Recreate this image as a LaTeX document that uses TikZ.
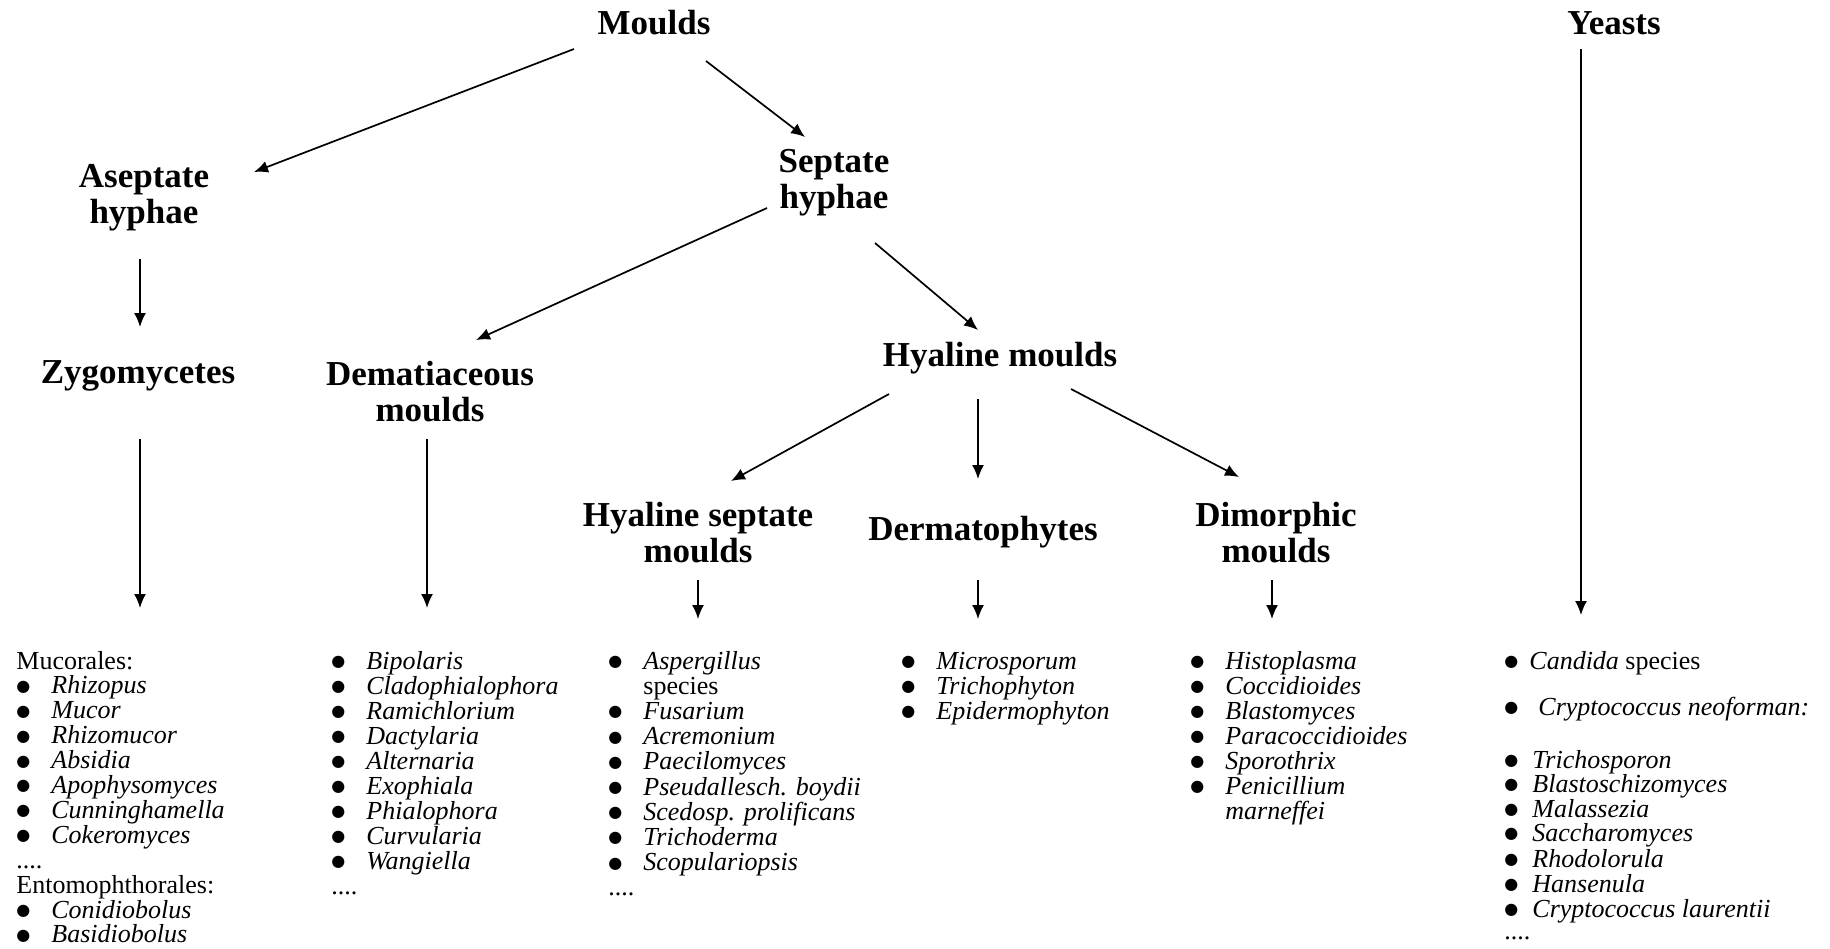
\documentclass[tikz,border=0pt]{standalone}
\usepackage{fontspec}
\setmainfont{Liberation Serif}
\newfontfamily\dejavu{DejaVu Sans}
\usetikzlibrary{arrows.meta}
\newcommand\bigbul{\raisebox{1.3pt}{\dejavu\fontsize{8}{8}\selectfont ●}}
\newcommand\bi[2][17.5pt]{\makebox[#1][l]{\bigbul}\textit{#2}}
\newcommand\ind[1]{\hspace*{17.5pt}#1}
\newcommand\fdots{....}
\begin{document}
\begin{tikzpicture}[x=0.5pt,y=-0.5pt,
  head/.style={font=\fontsize{17.5}{18}\selectfont\bfseries, align=center, inner sep=0pt},
  item/.style={anchor=base west, inner sep=0pt, font=\fontsize{13}{13}\selectfont},
  arr/.style={line width=0.85pt, -{Latex[length=7pt,width=6pt]}}]
\useasboundingbox (0,0) rectangle (1830,948);

% headings
\node[head] (moulds) at (654,23) {Moulds};
\node[head] (yeasts) at (1614,23) {Yeasts};
\node[head] (asep) at (144,198) {Aseptate\\hyphae};
\node[head] (sep) at (834,183) {Septate\\hyphae};
\node[head] (zygo) at (138,376) {Zygomycetes};
\node[head] (dema) at (430,392) {Dematiaceous\\moulds};
\node[head] (hyal) at (1000,358) {Hyaline moulds};
\node[head] (hsep) at (698,533) {Hyaline septate\\moulds};
\node[head] (derm) at (983,532) {Dermatophytes};
\node[head] (dimo) at (1276,533) {Dimorphic\\moulds};

% list tops
\coordinate (zygotop) at (140,608);
\coordinate (dematop) at (427,608);
\coordinate (hseptop) at (698,619);
\coordinate (dermtop) at (978,619);
\coordinate (dimotop) at (1272,619);
\coordinate (yeasttop) at (1581,615);

% arrows
\draw[arr] ([shift={(-80,26)}]moulds.center) -- ([shift={(110,-26)}]asep.center);
\draw[arr] ([shift={(52,38)}]moulds.center) -- ([shift={(-29,-46)}]sep.center);
\draw[arr] ([shift={(-67,25)}]sep.center) -- ([shift={(46,-52)}]dema.center);
\draw[arr] ([shift={(41,60)}]sep.center) -- ([shift={(-22,-28)}]hyal.center);
\draw[arr] ([shift={(-4,61)}]asep.center) -- ([shift={(2,-49)}]zygo.center);
\draw[arr] ([shift={(2,63)}]zygo.center) -- (zygotop);
\draw[arr] ([shift={(-3,47)}]dema.center) -- (dematop);
\draw[arr] ([shift={(-111,36)}]hyal.center) -- ([shift={(33,-52)}]hsep.center);
\draw[arr] ([shift={(-22,41)}]hyal.center) -- ([shift={(-5,-53)}]derm.center);
\draw[arr] ([shift={(71,31)}]hyal.center) -- ([shift={(-37,-56)}]dimo.center);
\draw[arr] ([shift={(0,47)}]hsep.center) -- (hseptop);
\draw[arr] ([shift={(-5,48)}]derm.center) -- (dermtop);
\draw[arr] ([shift={(-4,47)}]dimo.center) -- (dimotop);
\draw[arr] ([shift={(-33,26)}]yeasts.center) -- (yeasttop);

% lists
\foreach \t [count=\i from 0] in {Mucorales:,\bi{Rhizopus},\bi{Mucor},\bi{Rhizomucor},\bi{Absidia},\bi{Apophysomyces},\bi{Cunninghamella},\bi{Cokeromyces},\fdots,Entomophthorales:,\bi{Conidiobolus},\bi{Basidiobolus}}
  \node[item] (zl\i) at (16,669+24.9*\i) {\t};

\foreach \t [count=\i from 0] in {\bi{Bipolaris},\bi{Cladophialophora},\bi{Ramichlorium},\bi{Dactylaria},\bi{Alternaria},\bi{Exophiala},\bi{Phialophora},\bi{Curvularia},\bi{Wangiella},\fdots}
  \node[item] (dl\i) at (331,669+25*\i) {\t};

\foreach \t [count=\i from 0] in {\bi{Aspergillus},\ind{species},\bi{Fusarium},\bi{Acremonium},\bi{Paecilomyces},\bi{Pseudallesch. boydii},\bi{Scedosp. prolificans},\bi{Trichoderma},\bi{Scopulariopsis},\fdots}
  \node[item] (hl\i) at (608,669+25.2*\i) {\t};

\foreach \t [count=\i from 0] in {\bi{Microsporum},\bi{Trichophyton},\bi{Epidermophyton}}
  \node[item] (ml\i) at (901,669+25*\i) {\t};

\foreach \t [count=\i from 0] in {\bi{Histoplasma},\bi{Coccidioides},\bi{Blastomyces},\bi{Paracoccidioides},\bi{Sporothrix},\bi{Penicillium},\ind{\textit{marneffei}}}
  \node[item] (pl\i) at (1190,669+25*\i) {\t};

\foreach \y/\t [count=\i from 0] in {669/{\bi[12.5pt]{Candida} species},715/{\bi[17pt]{Cryptococcus neoforman:}},768/{\bi[14pt]{Trichosporon}},792/{\bi[14pt]{Blastoschizomyces}},817/{\bi[14pt]{Malassezia}},841/{\bi[14pt]{Saccharomyces}},867/{\bi[14pt]{Rhodolorula}},892/{\bi[14pt]{Hansenula}},917/{\bi[14pt]{Cryptococcus laurentii}},939/\fdots}
  \node[item] (yl\i) at (1504,\y) {\t};
\end{tikzpicture}
\end{document}
